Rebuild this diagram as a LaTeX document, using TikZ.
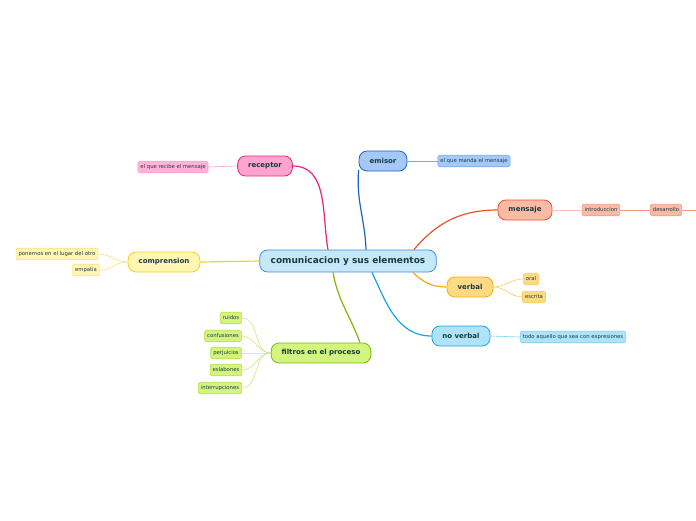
\documentclass[tikz,border=0pt]{standalone}
\usepackage{fontspec}
\setmainfont{DejaVu Sans}
\definecolor{ink}{HTML}{1B3A40}
\definecolor{cfill}{HTML}{C5E8F8}
\definecolor{cdraw}{HTML}{3A8FD8}
\definecolor{recfill}{HTML}{FFA3CF}
\definecolor{recdraw}{HTML}{E6247A}
\definecolor{recleaf}{HTML}{FFB3D7}
\definecolor{recline}{HTML}{FF9CCB}
\definecolor{emifill}{HTML}{A4C8F8}
\definecolor{emidraw}{HTML}{1B63C8}
\definecolor{emileaf}{HTML}{77A8EE}
\definecolor{menfill}{HTML}{F9BBA6}
\definecolor{mendraw}{HTML}{E8552A}
\definecolor{menleaf}{HTML}{F59A80}
\definecolor{comfill}{HTML}{FFF7B3}
\definecolor{comdraw}{HTML}{F2D41C}
\definecolor{comleaf}{HTML}{F7E07A}
\definecolor{verfill}{HTML}{FFDA85}
\definecolor{verdraw}{HTML}{F7AD00}
\definecolor{verleaf}{HTML}{FFCB5A}
\definecolor{nvfill}{HTML}{AEE4F9}
\definecolor{nvdraw}{HTML}{1BA1E2}
\definecolor{nvleaf}{HTML}{80D0F2}
\definecolor{filfill}{HTML}{D3F57E}
\definecolor{fildraw}{HTML}{7DB80A}
\definecolor{filleaf}{HTML}{B3DE4A}
\tikzset{
  root/.style={draw=cdraw,fill=cfill,thick,rounded corners=8pt,text=ink,
               font=\fontsize{9}{10}\selectfont\bfseries,inner xsep=11pt,minimum height=22pt},
  topic/.style 2 args={draw=#1,fill=#2,thick,rounded corners=8pt,text=ink,
               font=\fontsize{7}{8}\selectfont\bfseries,inner xsep=10.5pt,minimum height=20pt},
  leaf/.style 2 args={draw=#1,fill=#2,line width=0.6pt,rounded corners=1.5pt,text=ink,
               font=\fontsize{5.3}{6}\selectfont,inner xsep=2.5pt,inner ysep=0pt,minimum height=11.5pt},
  branch/.style={line width=1.2pt,#1},
  twig/.style={line width=0.6pt,#1}
}
\begin{document}
\begin{tikzpicture}[x=1pt,y=-1pt]
    \useasboundingbox (0,0) rectangle (696,520);
    \node[root] (c) at (348,261) {comunicacion y sus elementos};
    \node[topic={recdraw}{recfill}] (rec) at (265,166) {receptor};
    \node[topic={emidraw}{emifill}] (emi) at (383,161) {emisor};
    \node[topic={mendraw}{menfill}] (men) at (525,210) {mensaje};
    \node[topic={comdraw}{comfill}] (com) at (164,262) {comprension};
    \node[topic={verdraw}{verfill}] (ver) at (470,287) {verbal};
    \node[topic={nvdraw}{nvfill}] (nv) at (461,336) {no verbal};
    \node[topic={fildraw}{filfill}] (fil) at (321,353) {filtros en el proceso};
    \node[leaf={recline}{recleaf}] (rec1) at (173,167) {el que recibe el mensaje};
    \node[leaf={emileaf}{emifill}] (emi1) at (474,161) {el que manda el mensaje};
    \node[leaf={menleaf}{menfill}] (men1) at (601,210) {introduccion};
    \node[leaf={menleaf}{menfill}] (men2) at (666,210) {desarrollo};
    \coordinate (men3) at (700,210);
    \node[leaf={comleaf}{comfill}] (com1) at (57,254) {ponernos en el lugar del otro};
    \node[leaf={comleaf}{comfill}] (com2) at (86,270) {empatia};
    \node[leaf={verleaf}{verfill}] (ver1) at (531,279) {oral};
    \node[leaf={verleaf}{verfill}] (ver2) at (534,297) {escrita};
    \node[leaf={nvleaf}{nvfill}] (nv1) at (573,337) {todo aquello que sea con expresiones};
    \node[leaf={filleaf}{filfill}] (fil1) at (231,318) {ruidos};
    \node[leaf={filleaf}{filfill}] (fil2) at (223,336) {confusiones};
    \node[leaf={filleaf}{filfill}] (fil3) at (226,353) {perjuicios};
    \node[leaf={filleaf}{filfill}] (fil4) at (226,370) {eslabones};
    \node[leaf={filleaf}{filfill}] (fil5) at (220,388) {interrupciones};
    \draw[branch=recdraw] ([xshift=-20pt]c.north) to[out=100,in=0] (rec.east);
    \draw[branch=emidraw] ([xshift=18pt]c.north) to[out=92,in=-95] (emi.200);
    \draw[branch=mendraw] ([xshift=66pt]c.north) to[out=50,in=180] (men.west);
    \draw[branch=comdraw] (c.west) -- (com.east);
    \draw[branch=verdraw] ([xshift=65pt]c.south) to[out=-45,in=180] (ver.west);
    \draw[branch=nvdraw] ([xshift=24pt]c.south) to[out=-65,in=180] (nv.west);
    \draw[branch=fildraw] ([xshift=-15pt]c.south) to[out=-80,in=110] ([xshift=39pt]fil.north);
    \draw[twig=recline] (rec.west) -- (rec1.east);
    \draw[twig=emileaf] (emi.east) -- (emi1.west);
    \draw[twig=menleaf!60] (men.east) -- (men1.west);
    \draw[twig=menleaf] (men1.east) -- (men2.west);
    \draw[twig=menleaf] (men2.east) -- (men3);
    \foreach \l in {com1,com2} \draw[twig=comleaf] (com.west) to[out=180,in=0] (\l.east);
    \foreach \l in {ver1,ver2} \draw[twig=verleaf] (ver.east) to[out=0,in=180] (\l.west);
    \draw[twig=nvleaf] (nv.east) -- (nv1.west);
    \foreach \l in {fil1,fil2,fil3,fil4,fil5} \draw[twig=filleaf!70] (fil.west) to[out=180,in=0] (\l.east);
  \end{tikzpicture}
\end{document}
